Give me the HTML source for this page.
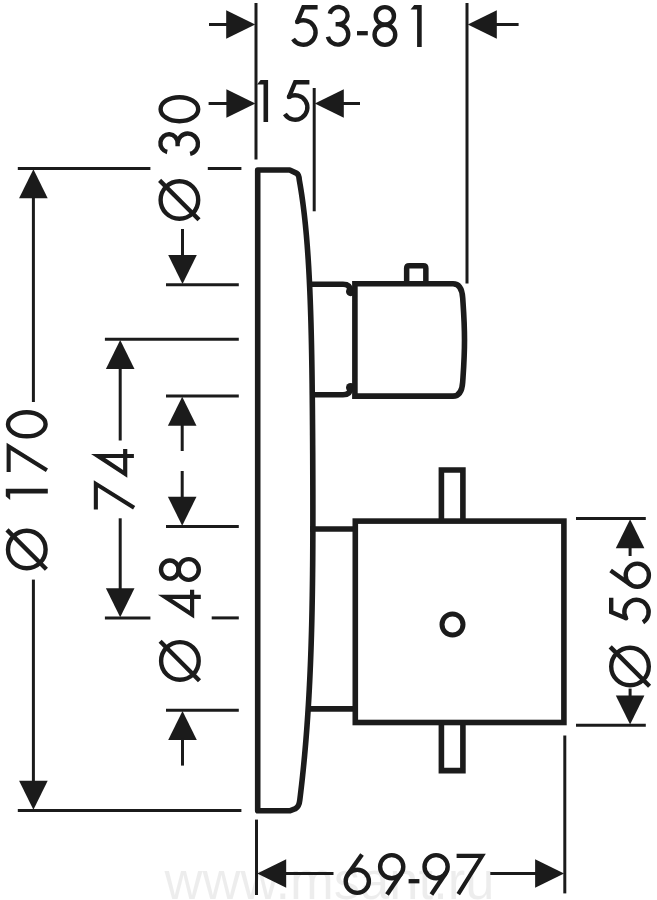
<!DOCTYPE html>
<html><head><meta charset="utf-8"><style>
html,body{margin:0;padding:0;background:#fff;width:657px;height:900px;overflow:hidden;font-family:"Liberation Sans",sans-serif;}
svg{display:block}
</style></head><body>
<svg width="657" height="900" viewBox="0 0 657 900"><rect width="657" height="900" fill="#fff"/><text x="164.5" y="899" font-family="Liberation Sans, sans-serif" font-size="51" fill="#000" fill-opacity="0.07" stroke="none" textLength="330" lengthAdjust="spacingAndGlyphs">www.msant.ru</text><g fill="none" stroke="#1b1b1b" stroke-linecap="butt"><line x1="256.00" y1="3.00" x2="256.00" y2="159.50" stroke-width="3.0"/>
<line x1="209.00" y1="24.50" x2="228.00" y2="24.50" stroke-width="3.0"/>
<polygon points="255.20,24.50 226.20,10.20 226.20,38.80" fill="#1b1b1b" stroke="none"/>
<line x1="467.00" y1="3.00" x2="467.00" y2="283.50" stroke-width="3.0"/>
<polygon points="467.80,24.50 496.80,10.20 496.80,38.80" fill="#1b1b1b" stroke="none"/>
<line x1="495.00" y1="24.50" x2="518.60" y2="24.50" stroke-width="3.0"/>
<g transform="translate(290.80,5.00)" stroke-width="4.4"><path d="M26.8,2.2 L12.6,2.2 L6.32,17.04" stroke-linejoin="miter"/><path d="M6.32,17.04 A12.2,12.2 0 1 1 2.25,33.97"/><circle cx="6.32" cy="17.04" r="2.20" fill="#1b1b1b" stroke="none"/></g>
<g transform="translate(326.00,5.00)" stroke-width="4.4"><path d="M3.80,8.81 A9.0,8.6 0 1 1 12.60,19.20 M9.60,19.20 L12.60,19.20 A10.3,10.2 0 1 1 1.93,31.72"/></g>
<g transform="translate(357.00,5.00)" stroke-width="4.4"><line x1="0" y1="28.2" x2="10.8" y2="28.2" stroke-width="4.3"/></g>
<g transform="translate(372.40,5.00)" stroke-width="4.4"><ellipse cx="12.45" cy="10.9" rx="9.1" ry="8.8"/><ellipse cx="12.5" cy="29.8" rx="10.35" ry="10.1"/></g>
<g transform="translate(410.60,5.00)" stroke-width="4.4"><polygon points="0,4.4 3.6,0 11.1,0 11.1,42 6.5,42 6.5,4.4" fill="#1b1b1b" stroke="none"/></g>
<line x1="208.60" y1="103.50" x2="227.00" y2="103.50" stroke-width="3.0"/>
<polygon points="255.40,103.50 226.40,89.20 226.40,117.80" fill="#1b1b1b" stroke="none"/>
<line x1="314.20" y1="88.00" x2="314.20" y2="211.30" stroke-width="3.0"/>
<polygon points="314.80,103.50 343.80,89.20 343.80,117.80" fill="#1b1b1b" stroke="none"/>
<line x1="342.00" y1="103.50" x2="360.00" y2="103.50" stroke-width="3.0"/>
<g transform="translate(257.00,80.00)" stroke-width="4.4"><polygon points="0,4.4 3.6,0 11.1,0 11.1,42 6.5,42 6.5,4.4" fill="#1b1b1b" stroke="none"/></g>
<g transform="translate(282.60,80.00)" stroke-width="4.4"><path d="M26.8,2.2 L12.6,2.2 L6.32,17.04" stroke-linejoin="miter"/><path d="M6.32,17.04 A12.2,12.2 0 1 1 2.25,33.97"/><circle cx="6.32" cy="17.04" r="2.20" fill="#1b1b1b" stroke="none"/></g>
<line x1="17.80" y1="168.50" x2="150.40" y2="168.50" stroke-width="3.0"/>
<line x1="207.80" y1="168.50" x2="241.40" y2="168.50" stroke-width="3.0"/>
<line x1="166.00" y1="284.70" x2="238.80" y2="284.70" stroke-width="3.0"/>
<line x1="104.90" y1="339.30" x2="238.80" y2="339.30" stroke-width="3.0"/>
<line x1="166.00" y1="395.90" x2="238.80" y2="395.90" stroke-width="3.0"/>
<line x1="166.00" y1="526.40" x2="238.80" y2="526.40" stroke-width="3.0"/>
<line x1="104.90" y1="617.90" x2="150.40" y2="617.90" stroke-width="3.0"/>
<line x1="211.70" y1="617.90" x2="238.80" y2="617.90" stroke-width="3.0"/>
<line x1="166.00" y1="710.20" x2="238.80" y2="710.20" stroke-width="3.0"/>
<line x1="17.80" y1="810.40" x2="241.40" y2="810.40" stroke-width="3.0"/>
<polygon points="33.40,169.20 19.10,198.20 47.70,198.20" fill="#1b1b1b" stroke="none"/>
<line x1="33.40" y1="197.00" x2="33.40" y2="402.00" stroke-width="3.0"/>
<line x1="33.40" y1="579.60" x2="33.40" y2="782.50" stroke-width="3.0"/>
<polygon points="33.40,809.70 19.10,780.70 47.70,780.70" fill="#1b1b1b" stroke="none"/>
<g transform="matrix(0,-1,1,0,5.80,438.50)" stroke-width="4.4"><ellipse cx="14.2" cy="21" rx="12.00" ry="18.80"/></g>
<g transform="matrix(0,-1,1,0,5.80,472.00)" stroke-width="4.4"><polygon points="0.00,0.80 29.20,0.80 3.40,42.20 -0.08,40.03 21.81,4.90 0.00,4.90" fill="#1b1b1b" stroke="none"/></g>
<g transform="matrix(0,-1,1,0,5.80,499.90)" stroke-width="4.4"><polygon points="0,4.4 3.6,0 11.1,0 11.1,42 6.5,42 6.5,4.4" fill="#1b1b1b" stroke="none"/></g>
<g transform="matrix(0,-1,1,0,5.80,570.50)" stroke-width="4.4"><circle cx="21" cy="21" r="18.80"/><line x1="1.2" y1="40.6" x2="40.6" y2="1.2"/></g>
<polygon points="120.20,340.00 105.90,369.00 134.50,369.00" fill="#1b1b1b" stroke="none"/>
<line x1="120.20" y1="367.00" x2="120.20" y2="440.50" stroke-width="3.0"/>
<line x1="120.20" y1="518.30" x2="120.20" y2="589.00" stroke-width="3.0"/>
<polygon points="120.20,617.20 105.90,588.20 134.50,588.20" fill="#1b1b1b" stroke="none"/>
<g transform="matrix(0,-1,1,0,92.00,477.80)" stroke-width="4.4"><path d="M23.90,-1.00 L23.90,31.10 L28.80,31.10 L28.80,35.30 L23.90,35.30 L23.90,41.90 L19.70,41.90 L19.70,35.30 L0.00,35.30 Z M19.70,13.20 L19.70,31.10 L7.91,31.10 Z" fill="#1b1b1b" fill-rule="evenodd" stroke="none"/></g>
<g transform="matrix(0,-1,1,0,93.00,509.40)" stroke-width="4.4"><polygon points="0.00,0.80 29.20,0.80 3.40,42.20 -0.08,40.03 21.81,4.90 0.00,4.90" fill="#1b1b1b" stroke="none"/></g>
<line x1="182.50" y1="229.00" x2="182.50" y2="256.00" stroke-width="3.0"/>
<polygon points="182.50,284.00 168.20,255.00 196.80,255.00" fill="#1b1b1b" stroke="none"/>
<polygon points="182.50,710.90 168.20,739.90 196.80,739.90" fill="#1b1b1b" stroke="none"/>
<line x1="182.50" y1="738.50" x2="182.50" y2="765.60" stroke-width="3.0"/>
<g transform="matrix(0,-1,1,0,158.40,123.40)" stroke-width="4.4"><ellipse cx="14.2" cy="21" rx="12.00" ry="18.80"/></g>
<g transform="matrix(0,-1,1,0,158.40,155.80)" stroke-width="4.4"><path d="M3.80,8.81 A9.0,8.6 0 1 1 12.60,19.20 M9.60,19.20 L12.60,19.20 A10.3,10.2 0 1 1 1.93,31.72"/></g>
<g transform="matrix(0,-1,1,0,158.40,221.00)" stroke-width="4.4"><circle cx="21" cy="21" r="18.80"/><line x1="1.2" y1="40.6" x2="40.6" y2="1.2"/></g>
<polygon points="182.20,396.70 167.90,425.70 196.50,425.70" fill="#1b1b1b" stroke="none"/>
<line x1="182.20" y1="425.00" x2="182.20" y2="451.00" stroke-width="3.0"/>
<line x1="182.20" y1="471.00" x2="182.20" y2="497.00" stroke-width="3.0"/>
<polygon points="182.20,525.70 167.90,496.70 196.50,496.70" fill="#1b1b1b" stroke="none"/>
<g transform="matrix(0,-1,1,0,158.90,582.00)" stroke-width="4.4"><ellipse cx="12.45" cy="10.9" rx="9.1" ry="8.8"/><ellipse cx="12.5" cy="29.8" rx="10.35" ry="10.1"/></g>
<g transform="matrix(0,-1,1,0,158.90,618.60)" stroke-width="4.4"><path d="M23.90,-1.00 L23.90,31.10 L28.80,31.10 L28.80,35.30 L23.90,35.30 L23.90,41.90 L19.70,41.90 L19.70,35.30 L0.00,35.30 Z M19.70,13.20 L19.70,31.10 L7.91,31.10 Z" fill="#1b1b1b" fill-rule="evenodd" stroke="none"/></g>
<g transform="matrix(0,-1,1,0,158.90,681.90)" stroke-width="4.4"><circle cx="21" cy="21" r="18.80"/><line x1="1.2" y1="40.6" x2="40.6" y2="1.2"/></g>
<line x1="576.00" y1="518.50" x2="645.80" y2="518.50" stroke-width="3.0"/>
<line x1="576.00" y1="725.20" x2="645.80" y2="725.20" stroke-width="3.0"/>
<polygon points="630.10,519.20 615.80,548.20 644.40,548.20" fill="#1b1b1b" stroke="none"/>
<line x1="630.10" y1="547.00" x2="630.10" y2="556.00" stroke-width="3.0"/>
<line x1="630.10" y1="688.60" x2="630.10" y2="697.00" stroke-width="3.0"/>
<polygon points="630.10,724.50 615.80,695.50 644.40,695.50" fill="#1b1b1b" stroke="none"/>
<g transform="matrix(0,-1,1,0,609.00,589.10)" stroke-width="4.4"><circle cx="13.9" cy="28.3" r="11.6"/><path d="M18.60,1.60 L4.43,21.59" stroke-linecap="butt"/></g>
<g transform="matrix(0,-1,1,0,609.00,624.60)" stroke-width="4.4"><path d="M26.8,2.2 L12.6,2.2 L6.32,17.04" stroke-linejoin="miter"/><path d="M6.32,17.04 A12.2,12.2 0 1 1 2.25,33.97"/><circle cx="6.32" cy="17.04" r="2.20" fill="#1b1b1b" stroke="none"/></g>
<g transform="matrix(0,-1,1,0,609.00,687.50)" stroke-width="4.4"><circle cx="21" cy="21" r="18.80"/><line x1="1.2" y1="40.6" x2="40.6" y2="1.2"/></g>
<line x1="256.50" y1="819.60" x2="256.50" y2="895.00" stroke-width="3.0"/>
<line x1="564.80" y1="735.50" x2="564.80" y2="893.40" stroke-width="3.0"/>
<line x1="285.00" y1="873.50" x2="333.50" y2="873.50" stroke-width="3.0"/>
<polygon points="257.20,873.50 286.20,859.20 286.20,887.80" fill="#1b1b1b" stroke="none"/>
<line x1="490.30" y1="873.50" x2="538.00" y2="873.50" stroke-width="3.0"/>
<polygon points="564.10,873.50 535.10,859.20 535.10,887.80" fill="#1b1b1b" stroke="none"/>
<g transform="translate(343.40,853.00)" stroke-width="4.4"><circle cx="13.9" cy="28.3" r="11.6"/><path d="M18.60,1.60 L4.43,21.59" stroke-linecap="butt"/></g>
<g transform="translate(377.60,853.00)" stroke-width="4.4"><circle cx="14.1" cy="13.7" r="11.6"/><path d="M9.40,41.40 L23.72,20.19"/></g>
<g transform="translate(408.60,853.00)" stroke-width="4.4"><line x1="0" y1="28.2" x2="10.8" y2="28.2" stroke-width="4.3"/></g>
<g transform="translate(422.00,853.00)" stroke-width="4.4"><circle cx="14.1" cy="13.7" r="11.6"/><path d="M9.40,41.40 L23.72,20.19"/></g>
<g transform="translate(456.60,853.00)" stroke-width="4.4"><polygon points="0.00,0.80 29.20,0.80 3.40,42.20 -0.08,40.03 21.81,4.90 0.00,4.90" fill="#1b1b1b" stroke="none"/></g>
<path d="M257.7,810.8 L257.7,170 L289.7,170 L296.8,173.4 Q299.0,174.8 299.30,180.00 L300.17,185.00 L300.98,190.00 L301.75,195.00 L302.46,200.00 L303.13,205.00 L303.76,210.00 L304.35,215.00 L304.90,220.00 L305.42,225.00 L305.90,230.00 L306.36,235.00 L306.78,240.00 L307.18,245.00 L307.55,250.00 L307.90,255.00 L308.23,260.00 L308.54,265.00 L308.82,270.00 L309.09,275.00 L309.35,280.00 L309.58,285.00 L309.81,290.00 L310.01,295.00 L310.21,300.00 L310.39,305.00 L310.56,310.00 L310.72,315.00 L310.87,320.00 L311.01,325.00 L311.14,330.00 L311.27,335.00 L311.38,340.00 L311.49,345.00 L311.59,350.00 L311.69,355.00 L311.78,360.00 L311.86,365.00 L311.94,370.00 L312.01,375.00 L312.08,380.00 L312.14,385.00 L312.20,390.00 L312.26,395.00 L312.31,400.00 L312.36,405.00 L312.41,410.00 L312.45,415.00 L312.49,420.00 L312.53,425.00 L312.57,430.00 L312.60,435.00 L312.63,440.00 L312.66,445.00 L312.69,450.00 L312.72,455.00 L312.74,460.00 L312.76,465.00 L312.78,470.00 L312.80,475.00 L312.82,480.00 L312.83,485.00 L312.85,490.00 L312.86,495.00 L312.86,500.00 L312.87,505.00 L312.87,510.00 L312.87,515.00 L312.87,520.00 L312.86,525.00 L312.85,530.00 L312.84,535.00 L312.82,540.00 L312.80,545.00 L312.77,550.00 L312.74,555.00 L312.71,560.00 L312.67,565.00 L312.62,570.00 L312.57,575.00 L312.51,580.00 L312.45,585.00 L312.38,590.00 L312.31,595.00 L312.22,600.00 L312.13,605.00 L312.04,610.00 L311.93,615.00 L311.82,620.00 L311.70,625.00 L311.57,630.00 L311.43,635.00 L311.28,640.00 L311.13,645.00 L310.96,650.00 L310.78,655.00 L310.60,660.00 L310.40,665.00 L310.19,670.00 L309.97,675.00 L309.74,680.00 L309.49,685.00 L309.24,690.00 L308.97,695.00 L308.69,700.00 L308.39,705.00 L308.08,710.00 L307.76,715.00 L307.42,720.00 L307.07,725.00 L306.71,730.00 L306.32,735.00 L305.93,740.00 L305.51,745.00 L305.08,750.00 L304.64,755.00 L304.17,760.00 L303.69,765.00 L303.19,770.00 L302.67,775.00 L302.14,780.00 L301.58,785.00 L301.00,790.00 L300.41,795.00 L299.80,800.00 Q299.2,806.3 295.5,808.7 L289.7,810.8 Z" stroke-width="5.6" stroke-linejoin="round"/>
<path d="M309,284.3 L343,284.3 Q350.5,284.3 350.5,291" stroke-width="5.6"/>
<path d="M310,394.7 L343,394.7 Q350.5,394.7 350.5,388" stroke-width="5.6"/>
<circle cx="350.6" cy="291.6" r="4.6" fill="#1b1b1b" stroke="none"/>
<circle cx="350.6" cy="387.6" r="4.6" fill="#1b1b1b" stroke="none"/>
<path d="M403.9,285 L403.9,268.2 Q403.9,262.9 409.2,262.9 L423.3,262.9 Q428.6,262.9 428.6,268.2 L428.6,285 Z M409.4,268.4 L409.4,285 L423.1,285 L423.1,268.4 Z" fill="#1b1b1b" fill-rule="evenodd" stroke="none"/>
<path d="M354.9,283.8 L453.0,283.8 C459.6,283.8 462.2,290.0 462.7,298.0 C463.5,310 464.5,322 464.5,340 C464.5,358 463.5,370 462.7,382 C462.2,390 459.6,396.1 453.0,396.1 L354.9,396.1 Z" stroke-width="5.6" stroke-linejoin="miter"/>
<path d="M310,529 L355.3,529" stroke-width="5.6"/>
<path d="M307,708.9 L355.3,708.9" stroke-width="5.6"/>
<path d="M441.4,521 L441.4,470 L462.9,470 L462.9,521" stroke-width="5.6" stroke-linejoin="miter"/>
<path d="M441.4,722 L441.4,770.6 L462.9,770.6 L462.9,722" stroke-width="5.6" stroke-linejoin="miter"/>
<rect x="355.3" y="521.1" width="208.6" height="201.4" stroke-width="5.6" stroke-linejoin="miter"/>
<circle cx="452.5" cy="624.5" r="10.5" stroke-width="5"/></g></svg>
</body></html>
